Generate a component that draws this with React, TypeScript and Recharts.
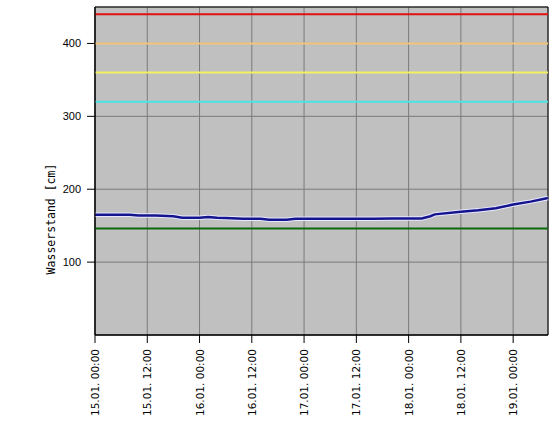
import {
  LineChart,
  Line,
  XAxis,
  YAxis,
  CartesianGrid,
  ReferenceLine,
  ReferenceArea,
} from 'recharts'

// Stunden seit 15.01. 00:00
const hours = [
  0, 4, 8, 10, 14, 18, 20, 24, 26, 28, 30, 34, 38, 40, 44, 46, 50, 56, 60, 64, 68, 72, 75, 77, 78, 84, 88, 92, 96, 100, 104,
]
// Wasserstand [cm]
const levels = [
  165, 165, 165, 164, 164, 163, 161, 161, 162, 161, 160.5, 159.5, 159.5, 158, 158, 159.5, 159.5, 159.5, 159.5, 159.5, 160, 160, 160,
  163, 165.5, 169, 171, 174, 179, 183, 188,
]

const tickHours = [0, 12, 24, 36, 48, 60, 72, 84, 96]
const tickLabels = [
  '15.01. 00:00',
  '15.01. 12:00',
  '16.01. 00:00',
  '16.01. 12:00',
  '17.01. 00:00',
  '17.01. 12:00',
  '18.01. 00:00',
  '18.01. 12:00',
  '19.01. 00:00',
]
const yTicks = [100, 200, 300, 400]

// Grenzwerte (Meldestufen)
const limitValues = [440, 400, 360, 320, 146]
const limitColors = ['#e01010', '#f2c478', '#f4f060', '#48e4e8', '#0a6a0a']

const data = hours.map((h, i) => ({ h, level: levels[i] }))

function XTick({ x, y, payload }: any) {
  const idx = tickHours.indexOf(payload.value)
  const label = idx >= 0 ? tickLabels[idx] : ''
  const ty = y + 4
  return (
    <text
      x={x}
      y={ty}
      transform={`rotate(-90, ${x}, ${ty})`}
      textAnchor="end"
      dominantBaseline="central"
      fontSize={10.5}
      fontFamily="DejaVu Sans"
      fill="#000"
    >
      {label}
    </text>
  )
}

export default function App() {
  return (
    <div style={{ position: 'absolute', left: 0, top: 0, width: 556, height: 423, background: '#fff' }}>
      <LineChart width={556} height={423} data={data} margin={{ top: 7, right: 8, left: 0, bottom: 0 }}>
        <CartesianGrid stroke="#7a7a7a" fill="#c0c0c0" fillOpacity={1} />
        <XAxis
          dataKey="h"
          type="number"
          domain={[0, 104]}
          ticks={tickHours}
          tick={<XTick />}
          tickSize={8}
          height={88}
          stroke="#000"
          interval={0}
        />
        <YAxis
          type="number"
          domain={[0, 450]}
          ticks={yTicks}
          width={95}
          tickSize={8}
          tickMargin={6}
          stroke="#000"
          tick={{ fontSize: 11, fontFamily: 'Liberation Sans', fill: '#000' }}
          label={{
            value: 'Wasserstand [cm]',
            angle: -90,
            position: 'insideLeft',
            dx: 46,
            dy: 48,
            style: { fontSize: 11.5, fontFamily: 'DejaVu Sans Mono', fill: '#000', textAnchor: 'middle' },
          }}
        />
        {limitValues.map((v, i) => (
          <ReferenceLine key={v} y={v} stroke={limitColors[i]} strokeWidth={2} />
        ))}
        <ReferenceArea x1={0} x2={104} y1={0} y2={450} fill="none" stroke="#000" strokeWidth={1} />
        <Line
          dataKey="level"
          type="linear"
          stroke="#e8e8ff"
          strokeWidth={4.5}
          dot={false}
          isAnimationActive={false}
          legendType="none"
        />
        <Line dataKey="level" type="linear" stroke="#14148c" strokeWidth={2.5} dot={false} isAnimationActive={false} />
      </LineChart>
    </div>
  )
}
